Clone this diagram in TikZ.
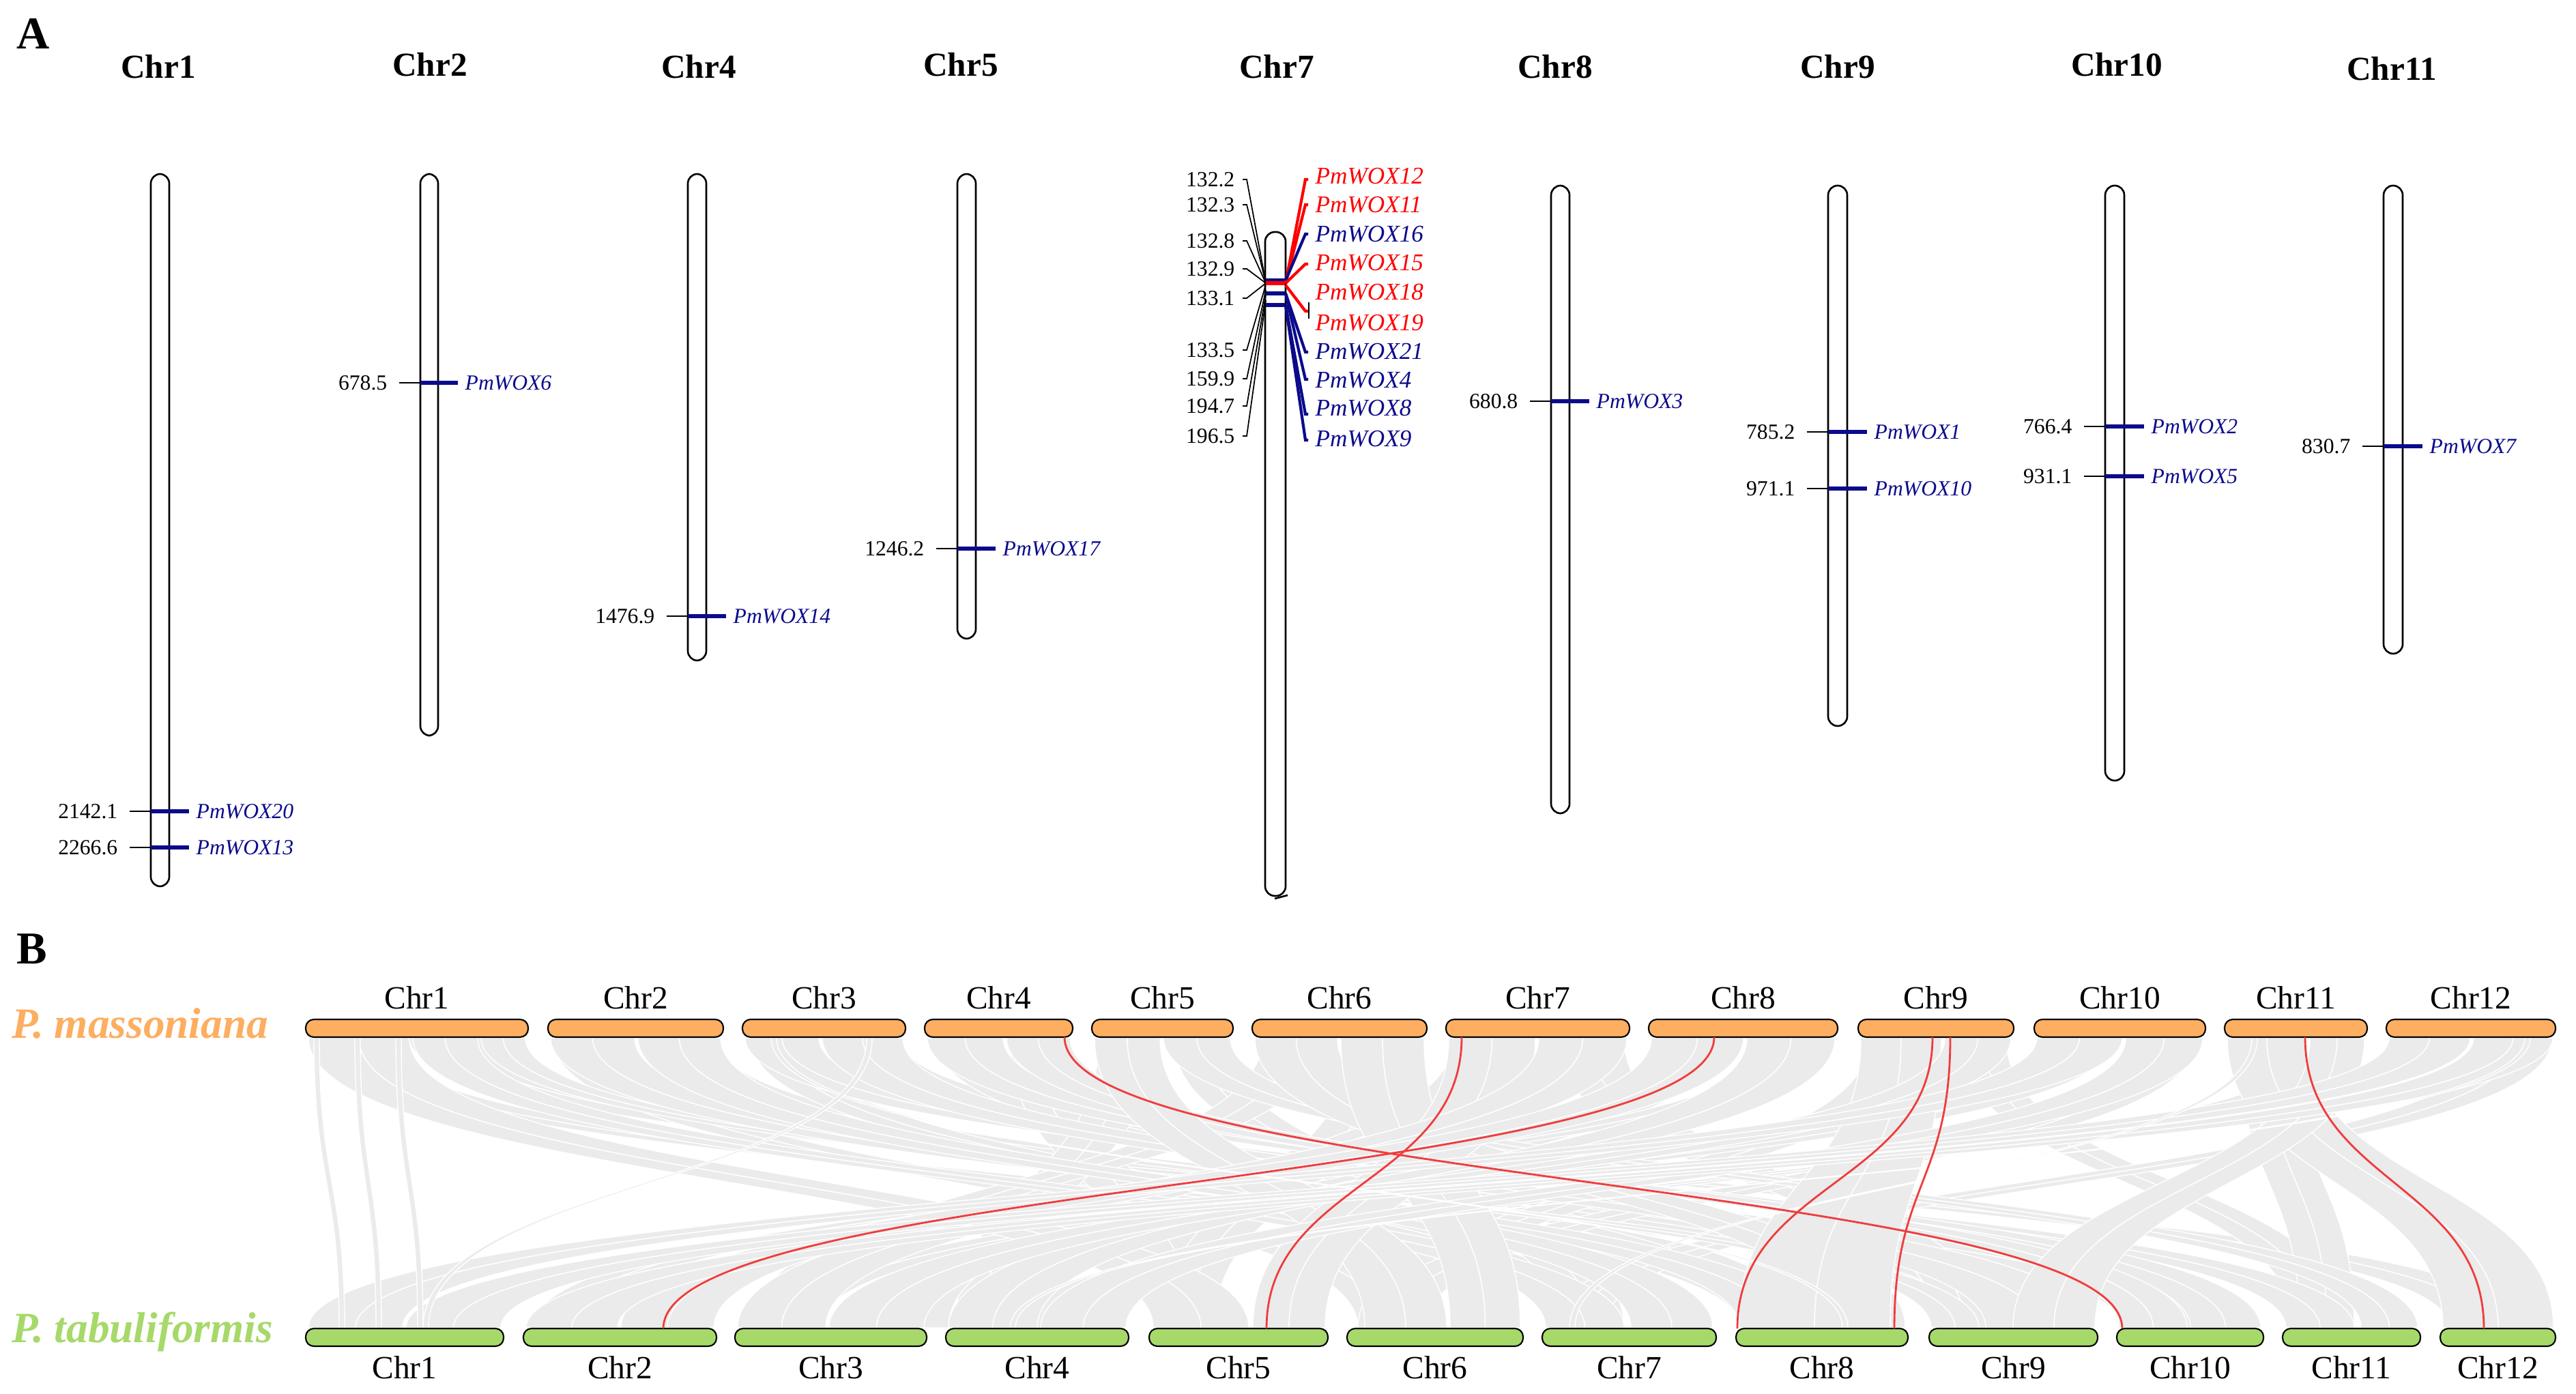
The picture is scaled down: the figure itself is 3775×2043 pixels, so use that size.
\documentclass[tikz,border=0pt]{standalone}
\usepackage{fontspec}
\setmainfont{Liberation Serif}
\usepackage{xcolor}
\usetikzlibrary{positioning}
\definecolor{woxblue}{HTML}{0B0B8C}
\definecolor{woxred}{HTML}{FF0000}
\definecolor{pmorange}{HTML}{FDAE61}
\definecolor{ptgreen}{HTML}{A6D96A}
\definecolor{syngray}{HTML}{EBEBEB}
\definecolor{synred}{HTML}{F03C3C}

% one gene on a chromosome of panel A: rod left, rod right, y, position, gene, id
\newcommand{\woxgene}[6]{%
  \node[posnum] (n#6) at (#1-48,#3) {#4};
  \node[genename] (g#6) at (#2+39,#3) {#5};
  \draw[postick] ([xshift=0.17cm]n#6.east) -- (#1,#3);
  \draw[genebar] (#1,#3) -- ([xshift=-0.1cm]g#6.west);
}
% a syntenic block of panel B cut into two ribbons: top from, top to, bottom from, bottom to
\newcommand{\synblock}[4]{%
  \foreach \k in {0,1} {
    \pgfmathsetmacro\pa{#1+(#2-#1)*\k/2}
    \pgfmathsetmacro\pb{#1+(#2-#1)*(\k+1)/2}
    \pgfmathsetmacro\qa{#3+(#4-#3)*\k/2}
    \pgfmathsetmacro\qb{#3+(#4-#3)*(\k+1)/2}
    \filldraw[synlink] (\pa,1521) .. controls (\pa,1733) and (\qa,1733) .. (\qa,1946)
      -- (\qb,1946) .. controls (\qb,1733) and (\pb,1733) .. (\pb,1521) -- cycle;
  }
}

\begin{document}
\begin{tikzpicture}[x=0.01cm, y=-0.01cm,
  rod/.style={draw=black, line width=0.75pt, fill=white, rounded corners=0.14cm},
  postick/.style={draw=black, line width=0.5pt},
  genebar/.style={draw=woxblue, line width=1.7pt},
  fanline/.style={line width=1.2pt},
  posnum/.style={anchor=east, inner sep=0pt, font=\fontsize{9}{10}\selectfont},
  genename/.style={anchor=west, inner sep=0pt, text=woxblue, font=\fontsize{9}{10}\selectfont\itshape},
  c7name/.style={anchor=west, inner sep=0pt, font=\fontsize{10}{11}\selectfont\itshape},
  panel/.style={anchor=base west, inner sep=0pt, font=\fontsize{19}{21}\selectfont\bfseries},
  chrA/.style={anchor=base, inner sep=0pt, font=\fontsize{14}{16}\selectfont\bfseries},
  chrB/.style={inner sep=0pt, font=\fontsize{13.5}{15}\selectfont},
  species/.style={anchor=base west, inner sep=0pt, font=\fontsize{18}{20}\selectfont\bfseries\itshape},
  topbar/.style={draw=black, line width=0.6pt, fill=pmorange, rounded corners=0.12cm,
    minimum height=0.26cm, inner sep=0pt},
  botbar/.style={draw=black, line width=0.6pt, fill=ptgreen, rounded corners=0.12cm,
    minimum height=0.26cm, inner sep=0pt},
  synlink/.style={fill=syngray, draw=white, line width=0.4pt},
  woxlink/.style={draw=synred, line width=0.8pt},
]
\useasboundingbox (0,0) rectangle (3775,2043);

%% panel A
\node[panel] (pa) at (24,72) {A};
\node[chrA] (a1) at (232,115) {Chr1};
\node[chrA] (a2) at (630,112) {Chr2};
\node[chrA] (a4) at (1024,115) {Chr4};
\node[chrA] (a5) at (1408,112) {Chr5};
\node[chrA] (a7) at (1871,115) {Chr7};
\node[chrA] (a8) at (2279,115) {Chr8};
\node[chrA] (a9) at (2693,115) {Chr9};
\node[chrA] (a10) at (3102,112) {Chr10};
\node[chrA] (a11) at (3505,118) {Chr11};

\draw[rod] (221,255) rectangle (248,1299);
\draw[rod] (616,255) rectangle (642,1078);
\draw[rod] (1008,255) rectangle (1035,968);
\draw[rod] (1403,255) rectangle (1430,936);
\draw[rod] (1854,340) rectangle (1884,1313);
\draw[rod] (2273,272) rectangle (2300,1192);
\draw[rod] (2679,272) rectangle (2707,1064);
\draw[rod] (3085,272) rectangle (3113,1144);
\draw[rod] (3493,272) rectangle (3521,958);
\draw[line width=0.75pt] (1868,1317) -- (1887,1312);

\woxgene{221}{248}{1189}{2142.1}{PmWOX20}{20}
\woxgene{221}{248}{1242}{2266.6}{PmWOX13}{13}
\woxgene{616}{642}{561}{678.5}{PmWOX6}{6}
\woxgene{1008}{1035}{903}{1476.9}{PmWOX14}{14}
\woxgene{1403}{1430}{804}{1246.2}{PmWOX17}{17}
\woxgene{2273}{2300}{588}{680.8}{PmWOX3}{3}
\woxgene{2679}{2707}{633}{785.2}{PmWOX1}{1}
\woxgene{2679}{2707}{716}{971.1}{PmWOX10}{10}
\woxgene{3085}{3113}{625}{766.4}{PmWOX2}{2}
\woxgene{3085}{3113}{698}{931.1}{PmWOX5}{5}
\woxgene{3493}{3521}{654}{830.7}{PmWOX7}{7}

% Chr7 cluster
\foreach \v/\y/\e in {132.2/263/415, 132.3/300/415, 132.8/353/415, 132.9/394/415,
  133.1/437/415, 133.5/513/417, 159.9/555/425, 194.7/595/432, 196.5/639/440} {
  \node[posnum] (c7n\y) at (1810,\y) {\v};
  \draw[postick] ([xshift=0.11cm]c7n\y.east) -- ++(6,0) -- (1855,\e);
}
\draw[genebar] (1855,411) -- (1883,411);
\draw[genebar, draw=woxred] (1855,415) -- (1883,415);
\draw[genebar] (1855,430) -- (1883,430);
\draw[genebar] (1855,447) -- (1883,447);
\foreach \g/\ly/\c/\by/\ey in {12/258/woxred/415/263, 11/300/woxred/415/300,
  16/343/woxblue/411/343, 15/385/woxred/415/387, 18/428/woxred/418/456,
  21/515/woxblue/430/516, 4/557/woxblue/430/556, 8/598/woxblue/447/607,
  9/643/woxblue/447/645} {
  \node[c7name, text=\c] (c7g\g) at (1927,\ly) {PmWOX\g};
  \draw[fanline, \c] (1884,\by) -- (1913,\ey) -- (1917,\ey);
}
\node[c7name, text=woxred] (c7g19) at (1927,473) {PmWOX19};
\draw[postick] (1918,443) -- (1918,467);

%% panel B
\node[panel] (pb) at (24,1412) {B};

\synblock{460}{560}{2550}{2640} \synblock{600}{740}{3110}{3250}
\synblock{810}{900}{1990}{2080} \synblock{960}{1050}{2840}{2950}
\synblock{1100}{1180}{2270}{2350} \synblock{1220}{1320}{3590}{3700}
\synblock{1370}{1450}{2560}{2650} \synblock{1480}{1560}{1700}{1800}
\synblock{1610}{1690}{1400}{1480} \synblock{1720}{1800}{2290}{2380}
\synblock{1850}{1940}{1100}{1180} \synblock{1980}{2080}{1700}{1780}
\synblock{2130}{2220}{1310}{1390} \synblock{2280}{2380}{2840}{2920}
\synblock{2430}{2520}{1420}{1500} \synblock{2600}{2680}{780}{860}
\synblock{2740}{2820}{1990}{2080} \synblock{2870}{2940}{3360}{3440}
\synblock{3000}{3100}{1110}{1200} \synblock{3130}{3220}{2000}{2090}
\synblock{3280}{3360}{3370}{3450} \synblock{3400}{3460}{1500}{1560}
\synblock{3520}{3600}{800}{880} \synblock{3650}{3740}{2270}{2350}

\synblock{452}{600}{1690}{1830} \synblock{605}{700}{2265}{2380}
\synblock{705}{770}{2830}{2900}
\synblock{807}{930}{2550}{2660} \synblock{935}{1056}{2390}{2510}
\synblock{1092}{1200}{3350}{3450} \synblock{1205}{1323}{2910}{3070}
\synblock{1359}{1470}{3210}{3313} \synblock{1475}{1568}{3106}{3205}
\synblock{1604}{1700}{2000}{2120} \synblock{1705}{1803}{3460}{3543}
\synblock{1839}{1960}{2680}{2792} \synblock{1965}{2087}{2125}{2228}
\synblock{2123}{2250}{1836}{1942} \synblock{2255}{2384}{1081}{1210}
\synblock{2420}{2555}{910}{1046} \synblock{2560}{2689}{1390}{1520}
\synblock{2727}{2845}{2548}{2770} \synblock{2850}{2947}{1215}{1354}
\synblock{2985}{3110}{452}{590} \synblock{3115}{3228}{1525}{1650}
\synblock{3264}{3380}{3580}{3742} \synblock{3385}{3465}{2950}{3070}
\synblock{3501}{3620}{595}{734} \synblock{3625}{3741}{771}{905}

\foreach \sa/\ea in {460/497, 520/551, 580/612, 1130/2700, 1270/620, 3300/2300, 3700/1480} {
  \filldraw[synlink] (\sa,1521) .. controls (\sa,1733) and (\ea,1733) .. (\ea,1946)
    -- (\ea+8,1946) .. controls (\ea+8,1733) and (\sa+8,1733) .. (\sa+8,1521) -- cycle;
}

\foreach \x/\y [count=\i] in {448/774, 803/1060, 1088/1327, 1355/1572, 1600/1807, 1835/2091,
  2119/2388, 2416/2693, 2723/2951, 2981/3232, 3260/3469, 3497/3745} {
  \pgfmathsetmacro\w{(\y-\x)*0.01}
  \node[topbar, minimum width=\w cm] (m\i) at ({(\x+\y)/2},1507) {};
  \node[chrB, above=0.13cm of m\i] (ml\i) {Chr\i};
}
\foreach \x/\y [count=\i] in {448/738, 767/1050, 1077/1358, 1386/1654, 1684/1946, 1974/2232,
  2260/2515, 2544/2796, 2827/3074, 3102/3317, 3345/3547, 3576/3745} {
  \pgfmathsetmacro\w{(\y-\x)*0.01}
  \node[botbar, minimum width=\w cm] (p\i) at ({(\x+\y)/2},1960) {};
  \node[chrB, below=0.13cm of p\i] (pl\i) {Chr\i};
}

\foreach \u/\v [count=\j] in {1560/3110, 2142/1856, 2512/972, 2832/2546, 2858/2776, 3378/3640} {
  \coordinate (wt\j) at (\u,1520);
  \coordinate (wb\j) at (\v,1947);
  \draw[woxlink] (wt\j) .. controls +(0,213) and +(0,-213) .. (wb\j);
}

\node[species, text=pmorange] (pm) at (17,1521) {P. massoniana};
\node[species, text=ptgreen] (pt) at (17,1967) {P. tabuliformis};
\end{tikzpicture}
\end{document}
